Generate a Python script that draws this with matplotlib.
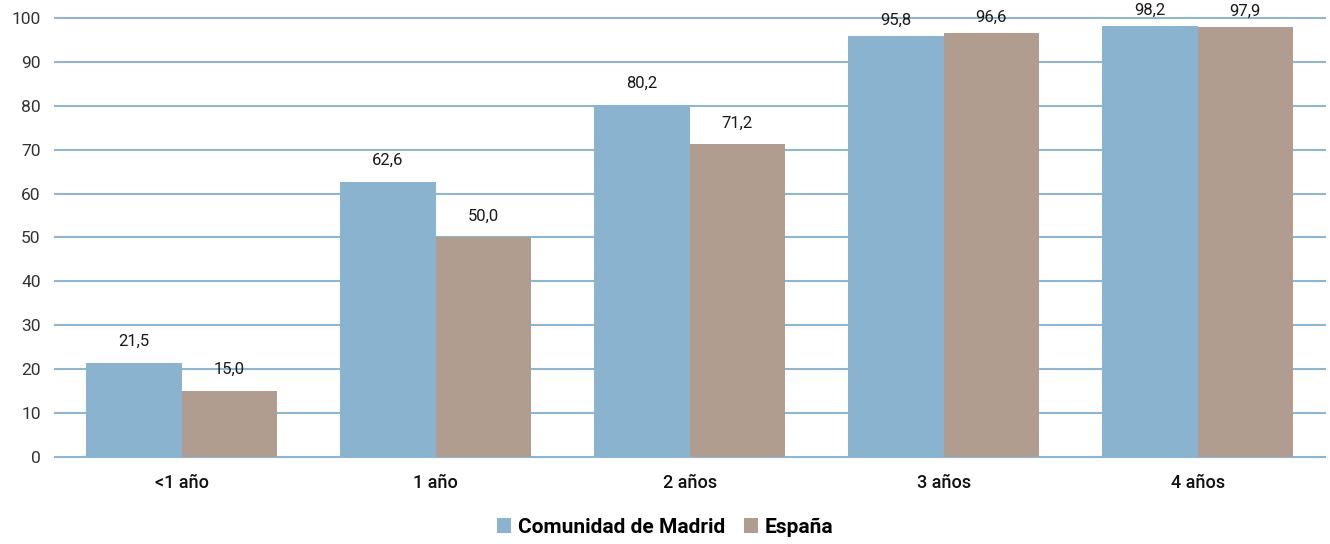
import numpy as np
import matplotlib
matplotlib.use("Agg")
from matplotlib import pyplot as plt

categories = ['<1 año', '1 año', '2 años', '3 años', '4 años']
madrid = [21.5, 62.6, 80.2, 95.8, 98.2]
espana = [15.0, 50.0, 71.2, 96.6, 97.9]
series_names = ['Comunidad de Madrid', 'España']
yticks = list(range(0, 101, 10))

blue = '#8ab3cf'
brown = '#b09d8f'
grid_col = '#8cb6d3'

plt.rcParams['font.family'] = ['Roboto', 'DejaVu Sans']

fig = plt.figure(figsize=(13.3, 5.44), dpi=100)
ax = fig.add_axes([0.041, 0.160, 0.955, 0.807])

x = np.arange(len(categories))
w = 0.375
b1 = ax.bar(x - w / 2, madrid, w, color=blue, label=series_names[0], zorder=3)
b2 = ax.bar(x + w / 2, espana, w, color=brown, label=series_names[1], zorder=3)

# value labels, decimal comma; the top ones sit closer so they fit
for bars, vals in [(b1, madrid), (b2, espana)]:
    for rect, v in zip(bars, vals):
        off = 6 if v > 95 else 10
        ax.annotate('{:.1f}'.format(v).replace('.', ','),
                    (rect.get_x() + rect.get_width() / 2, v),
                    xytext=(0, off), textcoords='offset points',
                    ha='center', va='bottom', fontsize=12,
                    color='#1a1a1a', annotation_clip=False)

ax.set_xlim(-0.5, len(categories) - 0.5)
ax.set_ylim(0, 100)
ax.set_yticks(yticks)
ax.set_xticks(x)
ax.set_xticklabels(categories, fontsize=13, color='#111111', fontweight='medium')
ax.tick_params(axis='y', labelsize=12.5, labelcolor='#333333', length=0, pad=10)
ax.tick_params(axis='x', length=0, pad=12)
ax.yaxis.grid(True, color=grid_col, linewidth=1.5, zorder=0, clip_on=False)
for s in ax.spines.values():
    s.set_visible(False)

fig.legend(handles=[b1, b2], loc='center', bbox_to_anchor=(0.5, 0.031),
           ncol=2, frameon=False, handlelength=0.7,
           handleheight=0.7, handletextpad=0.3, columnspacing=0.9,
           prop={'weight': 'bold', 'size': 15})

fig.savefig('out.png', dpi=100)
